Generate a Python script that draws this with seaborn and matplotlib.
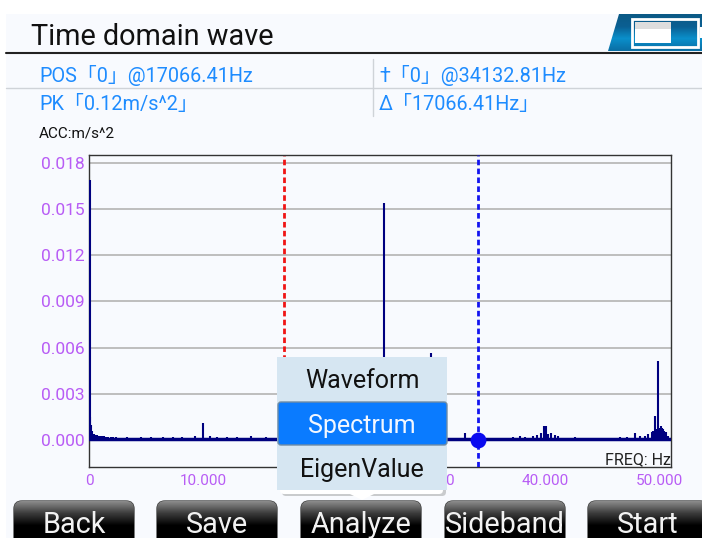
import matplotlib
matplotlib.use("Agg")
import matplotlib.pyplot as plt
from matplotlib.colors import LinearSegmentedColormap
from matplotlib.patches import FancyBboxPatch, Polygon, Rectangle
import numpy as np
import seaborn as sns

W, H = 702, 538

# spectrum stems, Hz / m/s^2
freq = [50, 88, 175, 263, 350, 440, 526, 620, 700, 830, 965, 1140, 1316, 1500, 1667, 1900, 2100, 2400, 2700, 3300,
        4600, 5400, 6500, 7400, 8200, 9300,
        10026, 10600, 11200, 12100, 13000, 14200, 15500, 25877, 30000,
        33000, 37193, 37807, 38246, 38947, 39298, 39649, 39912, 40044, 40263, 40526, 40877, 41140, 42632,
        46580, 47193, 47895, 48333, 48772, 49035, 49386, 49500, 49649, 49780, 49940, 50040, 50132, 50240,
        50351, 50460, 50570, 50790]
amp = [0.0169, 0.0015, 0.001, 0.0006, 0.00042, 0.00038, 0.00035, 0.00032, 0.0003, 0.00029, 0.00028, 0.00026,
       0.00025, 0.00022, 0.0002, 0.0002, 0.00018, 0.00017, 0.00016, 0.0002,
       0.00022, 0.0002, 0.00022, 0.0002, 0.00022, 0.00025,
       0.00108, 0.00025, 0.00022, 0.00022, 0.00022, 0.00025, 0.00022, 0.0154, 0.00565,
       0.00045, 0.00022, 0.00025, 0.00022, 0.00025, 0.00035, 0.00045, 0.0009, 0.0009, 0.0004, 0.00045, 0.0003,
       0.00025, 0.00022, 0.00022, 0.00022, 0.00045, 0.00025, 0.00025, 0.0004, 0.0005, 0.0006, 0.00156, 0.0007,
       0.00515, 0.0008, 0.0009, 0.0008, 0.0007, 0.0006, 0.0005, 0.00025]
floor_freq = [0, 51200]
floor_amp = [0.00004, 0.00004]

x_ticks = [0, 10000, 40000, 50000]
x_labels = ["0", "10.000", "40.000", "50.000"]
y_ticks = [0.0, 0.003, 0.006, 0.009, 0.012, 0.015, 0.018]
y_labels = ["0.000", "0.003", "0.006", "0.009", "0.012", "0.015", "0.018"]

pos_freq = 17066.41
cursor_freq = 34132.81
cursor_amp = 0.0

info_rows = [("POS「0」@17066.41Hz", 39, 75), ("†「0」@34132.81Hz", 379, 75),
             ("PK「0.12m/s^2」", 39, 104), ("Δ「17066.41Hz」", 379, 104)]
menu_items = ["Waveform", "Spectrum", "EigenValue"]
buttons = ["Back", "Save", "Analyze", "Sideband", "Start"]

BG = "#F8FAFE"
BLUE = "#1E8CFF"
PURPLE = "#B85CF5"
NAVY = "#00007F"

sns.set_theme(style="white")
plt.rcParams["font.family"] = ["Roboto", "Noto Sans CJK SC", "DejaVu Sans"]

fig = plt.figure(figsize=(W / 100, H / 100), dpi=100, facecolor="white")

# full window in pixel coordinates, behind the plot
bg = fig.add_axes([0, 0, 1, 1], zorder=0)
bg.axis("off")
bg.add_patch(Rectangle((6, 14), W - 6, H - 14, fc=BG, ec="none"))
bg.plot([6, W], [53, 53], color="#222222", lw=1.5)
bg.plot([6, W], [88, 88], color="#CFD3D8", lw=1)
bg.plot([373, 373], [59, 116], color="#CFD3D8", lw=1)
bg.text(31, 37, "Time domain wave", fontsize=20.8, color="#111111", va="center")
for txt, x, y in info_rows:
    bg.text(x, y, txt, fontsize=14.3, color=BLUE, va="center")
bg.text(39, 134, "ACC:m/s^2", fontsize=11, color="#111111", va="center")

# battery icon
bat = np.linspace(0, 1, 40).reshape(-1, 1)
bat_cm = LinearSegmentedColormap.from_list("b", ["#0B5A86", "#0B5F92", "#0A8FCB", "#0B6FA5"])
im = bg.imshow(bat, extent=(606, W, 51, 14), cmap=bat_cm, aspect="auto", zorder=1)
shape = Polygon([[619, 14], [W, 14], [W, 51], [608, 51]], fc="none", ec="none", zorder=1)
bg.add_patch(shape)
im.set_clip_path(shape)
bg.add_patch(Rectangle((632, 19), 66, 28, fc="none", ec="white", lw=2, zorder=3))
bg.add_patch(Rectangle((635, 22), 36, 21, fc="white", ec="none", zorder=4))
bg.add_patch(Rectangle((635, 22), 36, 7, fc="#DDDDDD", ec="none", zorder=5))
bg.add_patch(Rectangle((700, 27), 2, 11, fc="white", ec="none", zorder=3))
bg.set_xlim(0, W)
bg.set_ylim(H, 0)

# plot area
ax = fig.add_axes([89 / W, 1 - 467 / H, (671 - 89) / W, (467 - 155) / H], zorder=1)
ax.patch.set_alpha(0)
for t in y_ticks:
    ax.axhline(t, color="#B9B9B9", lw=1.3, zorder=1)
ax.vlines(freq, 0, amp, color=NAVY, lw=1.5, zorder=3)
sns.lineplot(x=floor_freq, y=floor_amp, estimator=None, color=NAVY, lw=2.5, ax=ax, zorder=3)
ax.axvline(pos_freq, color="#F01414", lw=2, ls=(0, (2, 1.2)), zorder=2)
ax.axvline(cursor_freq, color="#1414F0", lw=2, ls=(0, (2, 1.2)), zorder=4)
sns.scatterplot(x=[cursor_freq], y=[cursor_amp], color="#0A0AF0", s=130, linewidth=0, ax=ax, zorder=5)
ax.set_xlim(0, 51050)
ax.set_ylim(-0.00175, 0.0185)
ax.set_xticks(x_ticks, x_labels)
ax.set_yticks(y_ticks, y_labels)
ax.tick_params(axis="x", length=0, pad=5, labelsize=11, labelcolor=PURPLE)
ax.tick_params(axis="y", length=0, pad=3, labelsize=12.5, labelcolor=PURPLE)
for side in ax.spines.values():
    side.set_color("#333333")
    side.set_linewidth(1)
ax.text(0.999, 0.0, "FREQ: Hz", transform=ax.transAxes, ha="right", va="bottom", fontsize=11.5, color="#222222", zorder=6)
# last digit of the 30.000 label, the rest sits behind the popup
ax.text(31650, -0.00222, "0", ha="center", va="top", fontsize=11, color=PURPLE, zorder=6)

# popup menu and buttons on top
ui = fig.add_axes([0, 0, 1, 1], zorder=2)
ui.patch.set_alpha(0)
ui.axis("off")

ui.add_patch(FancyBboxPatch((282, 362), 164, 134, boxstyle="round,pad=0,rounding_size=4", fc="#C9CBCD", ec="none", zorder=1))
ui.add_patch(FancyBboxPatch((280, 480), 163, 14, boxstyle="round,pad=0,rounding_size=4", fc="white", ec="none", zorder=2))
ui.add_patch(Polygon([[350, 494], [374, 494], [362, 500]], fc="white", ec="none", zorder=2))
ui.add_patch(Rectangle((277, 357), 170, 133, fc="#D6E6F2", ec="none", zorder=3))
ui.add_patch(FancyBboxPatch((278, 402), 169, 43, boxstyle="round,pad=0,rounding_size=3", fc="#0A7BFF", ec="#6F8CA5", lw=1, zorder=4))
for name, y, col in zip(menu_items, [381, 426, 470], ["#111111", "#F2F7FF", "#111111"]):
    ui.text(362, y, name, fontsize=18, color=col, ha="center", va="center", zorder=5)

# buttons, glossy black gradient
grad = np.linspace(0, 1, 40).reshape(-1, 1)
cm = LinearSegmentedColormap.from_list("g", ["#8A8A8A", "#3A3A3A", "#000000", "#000000"])
for name, x0 in zip(buttons, [14, 157, 301, 445, 588]):
    box = FancyBboxPatch((x0, 501), 120, 50, boxstyle="round,pad=0,rounding_size=8", fc="black", ec="#444444", lw=1, zorder=5)
    ui.add_patch(box)
    im = ui.imshow(grad, extent=(x0, x0 + 120, 538, 501), cmap=cm, aspect="auto", zorder=6)
    im.set_clip_path(box)
    ui.text(x0 + 60, 525, name, fontsize=20.8, color="#F2F2F2", ha="center", va="center", zorder=7)
ui.set_xlim(0, W)
ui.set_ylim(H, 0)

fig.savefig("out.png", dpi=100, facecolor="white")
